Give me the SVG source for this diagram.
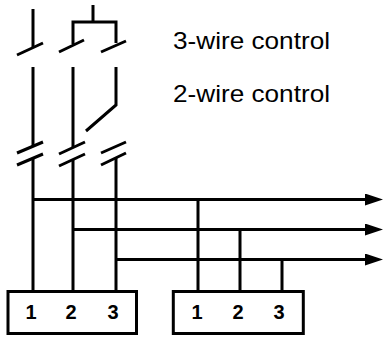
<svg xmlns="http://www.w3.org/2000/svg" width="384" height="338" viewBox="0 0 384 338">
<defs>
<style>
.w{stroke:#000;stroke-width:3;fill:none;stroke-linecap:butt}
.box{stroke:#000;stroke-width:3;fill:#fff}
.lbl{font-family:"Liberation Sans",Arial,sans-serif;font-size:24px;fill:#000}
.num{font-family:"Liberation Sans",Arial,sans-serif;font-size:20px;font-weight:bold;fill:#000;text-anchor:middle}
</style>
<marker id="arr" viewBox="0 0 18 12" refX="0" refY="6" markerWidth="18" markerHeight="12" markerUnits="userSpaceOnUse" orient="auto">
<path d="M0,0 L18,6 L0,12 Z" fill="#000"/>
</marker>
</defs>
<g id="connectors">
<path class="w" d="M93,5 V22 M73,44 V22 H116 V43"/>
<path class="w" d="M33,9 V48"/>
<path class="w" d="M17,55 L43,43 M59,52 L84,40 M101,52 L126,41"/>
<path class="w" d="M33,67 V147 M73,67 V148 M116,67 V105 L86,131"/>
<path class="w" d="M17,153 L43,142 M17,165 L43,154 M59,154 L85,142 M59,166 L85,154 M101,153 L126,142 M101,165 L126,153"/>
<path class="w" d="M33,159 V291 M73,160 V291 M116,158 V291"/>
<path class="w" d="M33,199.5 H365" marker-end="url(#arr)"/>
<path class="w" d="M73,229.5 H365" marker-end="url(#arr)"/>
<path class="w" d="M116,259.5 H365" marker-end="url(#arr)"/>
<path class="w" d="M198,199.5 V291 M240,229.5 V291 M282,259.5 V291"/>
</g>
<g id="label-3wire"><text class="lbl" x="173" y="48.5" textLength="157" lengthAdjust="spacingAndGlyphs">3-wire control</text></g>
<g id="label-2wire"><text class="lbl" x="173" y="101.5" textLength="157" lengthAdjust="spacingAndGlyphs">2-wire control</text></g>
<g id="box-left">
<rect class="box" x="8" y="291.5" width="128.5" height="42"/>
<text class="num" x="31" y="319">1</text>
<text class="num" x="71" y="319">2</text>
<text class="num" x="113" y="319">3</text>
</g>
<g id="box-right">
<rect class="box" x="173.3" y="291.5" width="130" height="42"/>
<text class="num" x="197" y="319">1</text>
<text class="num" x="238" y="319">2</text>
<text class="num" x="279" y="319">3</text>
</g>
</svg>
